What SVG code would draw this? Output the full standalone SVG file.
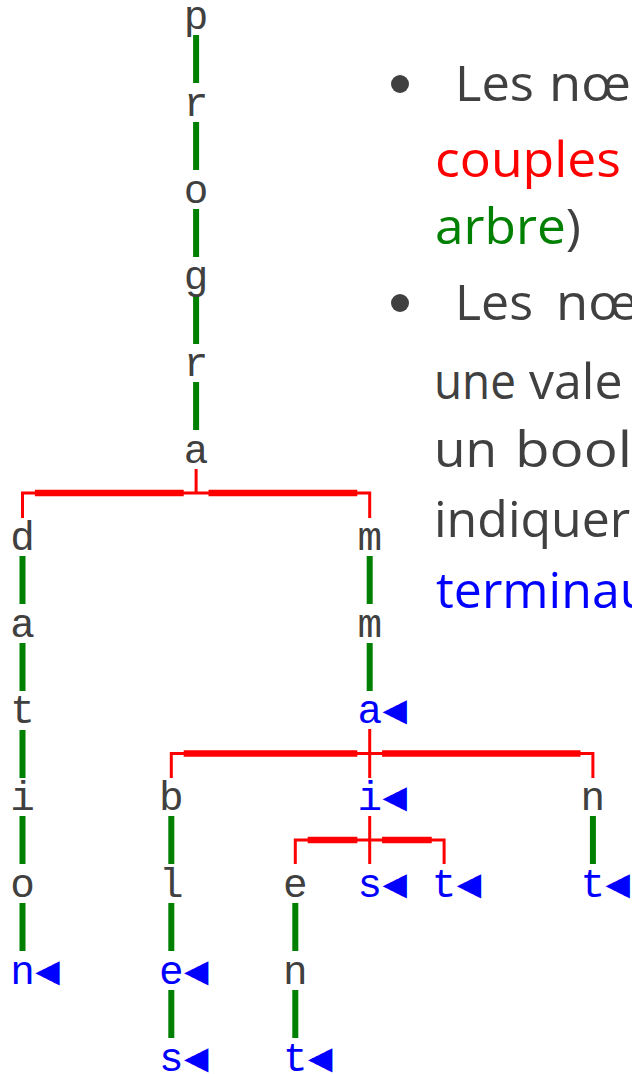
<svg xmlns="http://www.w3.org/2000/svg" width="632" height="1074" viewBox="0 0 632 1074">
<style>
.t{font-family:"Liberation Mono","DejaVu Sans Mono",monospace;font-size:41px;fill:#404040;text-anchor:middle}
.term{fill:#0000ff}
.tri{font-family:"DejaVu Sans Mono",monospace;font-size:41px;fill:#0000ff;text-anchor:middle}
.g{stroke:#008000;stroke-width:6;fill:none}
.rt{stroke:#ff0000;stroke-width:3;fill:none}
.rk{stroke:#ff0000;stroke-width:6.5;fill:none}
.p{font-family:"Open Sans","Noto Sans",sans-serif;font-size:50px;fill:#404040}
.red{fill:#ff0000}
.grn{fill:#008000}
.blu{fill:#0000ff}
</style>
<rect width="632" height="1074" fill="#ffffff"/>
<g id="connectors">
<path class="g" d="M196.1 35V83M196.1 122V170M196.1 209V257M196.1 296V344M196.1 382V430"/>
<path class="g" d="M22.5 556V604M22.5 643V691M22.5 730V778M22.5 816V864M22.5 903V951"/>
<path class="g" d="M369.7 556V604M369.7 643V691"/>
<path class="g" d="M171.3 816V864M171.3 903V951M171.3 990V1038"/>
<path class="g" d="M295.3 903V951M295.3 990V1038"/>
<path class="g" d="M592.9 816V864"/>
<path class="rt" d="M22.5 518V493H369.7V518M196.1 469V493"/>
<path class="rk" d="M34.9 493H183.7M208.5 493H357.3"/>
<path class="rt" d="M171.3 778V753.4H592.9V778M369.7 729V778"/>
<path class="rk" d="M183.7 753.4H357.3M382.1 753.4H580.5"/>
<path class="rt" d="M295.3 864V840H444.1V864M369.7 816V864"/>
<path class="rk" d="M307.7 840H357.3M382.1 840H431.7"/>
</g>
<g id="n-p"><text class="t" x="196.1" y="29">p</text></g>
<g id="n-pr"><text class="t" x="196.1" y="115.8">r</text></g>
<g id="n-pro"><text class="t" x="196.1" y="202.6">o</text></g>
<g id="n-prog"><text class="t" x="196.1" y="289.4">g</text></g>
<g id="n-progr"><text class="t" x="196.1" y="376.2">r</text></g>
<g id="n-progra"><text class="t" x="196.1" y="463">a</text></g>
<g id="n-d"><text class="t" x="22.5" y="549.8">d</text></g>
<g id="n-da"><text class="t" x="22.5" y="636.6">a</text></g>
<g id="n-dat"><text class="t" x="22.5" y="723.4">t</text></g>
<g id="n-dati"><text class="t" x="22.5" y="810.2">i</text></g>
<g id="n-datio"><text class="t" x="22.5" y="897">o</text></g>
<g id="n-dation"><text class="t term" x="22.5" y="983.8">n</text><text class="tri" x="47.3" y="983.8">◀</text></g>
<g id="n-m"><text class="t" x="369.7" y="549.8">m</text></g>
<g id="n-mm"><text class="t" x="369.7" y="636.6">m</text></g>
<g id="n-mma"><text class="t term" x="369.7" y="723.4">a</text><text class="tri" x="394.5" y="723.4">◀</text></g>
<g id="n-b"><text class="t" x="171.3" y="810.2">b</text></g>
<g id="n-bl"><text class="t" x="171.3" y="897">l</text></g>
<g id="n-ble"><text class="t term" x="171.3" y="983.8">e</text><text class="tri" x="196.1" y="983.8">◀</text></g>
<g id="n-bles"><text class="t term" x="171.3" y="1070.6">s</text><text class="tri" x="196.1" y="1070.6">◀</text></g>
<g id="n-i"><text class="t term" x="369.7" y="810.2">i</text><text class="tri" x="394.5" y="810.2">◀</text></g>
<g id="n-ie"><text class="t" x="295.3" y="897">e</text></g>
<g id="n-ien"><text class="t" x="295.3" y="983.8">n</text></g>
<g id="n-ient"><text class="t term" x="295.3" y="1070.6">t</text><text class="tri" x="320.1" y="1070.6">◀</text></g>
<g id="n-is"><text class="t term" x="369.7" y="897">s</text><text class="tri" x="394.5" y="897">◀</text></g>
<g id="n-it"><text class="t term" x="444.1" y="897">t</text><text class="tri" x="468.9" y="897">◀</text></g>
<g id="n-n"><text class="t" x="592.9" y="810.2">n</text></g>
<g id="n-nt"><text class="t term" x="592.9" y="897">t</text><text class="tri" x="617.7" y="897">◀</text></g>
<g id="legend">
<circle cx="400" cy="84" r="9" fill="#404040"/>
<text class="p" x="455" y="101" textLength="79" lengthAdjust="spacingAndGlyphs">Les</text>
<text class="p" x="549" y="101" textLength="82" lengthAdjust="spacingAndGlyphs">nœ</text>
<text class="p red" x="435" y="177" textLength="186" lengthAdjust="spacingAndGlyphs">couples</text>
<text class="p" x="435" y="244" textLength="146" lengthAdjust="spacingAndGlyphs"><tspan class="grn">arbre</tspan>)</text>
<circle cx="400" cy="303" r="9" fill="#404040"/>
<text class="p" x="455" y="320" textLength="78" lengthAdjust="spacingAndGlyphs">Les</text>
<text class="p" x="556" y="320" textLength="82" lengthAdjust="spacingAndGlyphs">nœ</text>
<text class="p" x="434" y="399" textLength="82" lengthAdjust="spacingAndGlyphs">une</text>
<text class="p" x="529" y="399">vale</text>
<text class="p" x="434" y="467" textLength="63" lengthAdjust="spacingAndGlyphs">un</text>
<text class="p" x="515" y="467" textLength="117" lengthAdjust="spacingAndGlyphs">bool</text>
<text class="p" x="434" y="537">indiquer</text>
<text class="p blu" x="436" y="608">terminau</text>
</g>
</svg>
